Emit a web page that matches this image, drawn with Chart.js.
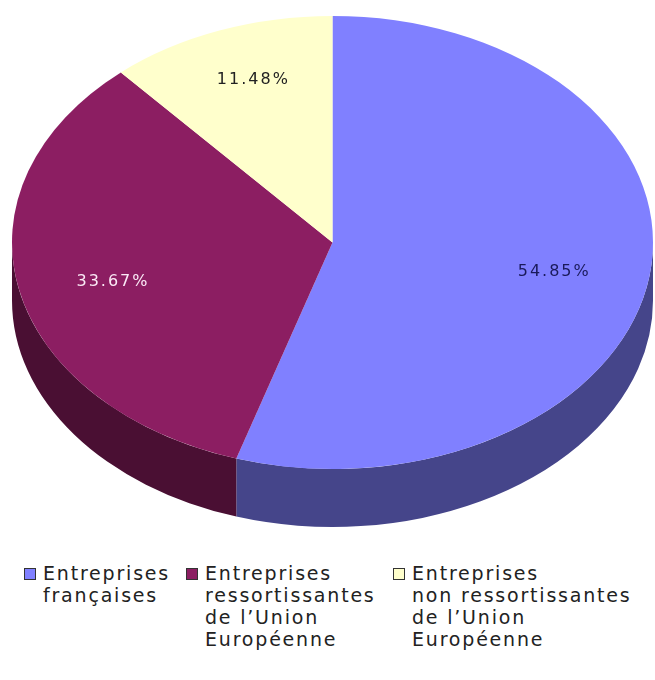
<!DOCTYPE html>
<html lang="fr">
<head>
    <meta charset="UTF-8">
    <title>Répartition des entreprises</title>
    <script src="https://cdn.jsdelivr.net/npm/chart.js"></script>
    <style>
        body { margin:0; background:#fff; }
        #wrap { position:relative; width:655px; height:680px; }
        #legend { position:absolute; left:24px; top:562px; display:flex;
                  font-family:"DejaVu Sans", sans-serif; font-size:19px; letter-spacing:1.8px;
                  line-height:22px; color:#222; }
        .item { display:flex; align-items:flex-start; }
        .box { width:10px; height:10px; border:1px solid #333; margin:6px 7px 0 0; flex:none; }
    </style>
</head>
<body>
<div id="wrap">
    <canvas id="myChart" width="655" height="545"></canvas>
    <div id="legend"></div>
</div>

<script>
    // categories (one entry per line of the legend text)
    const categories = [
        ['Entreprises', 'françaises'],
        ['Entreprises', 'ressortissantes', 'de l’Union', 'Européenne'],
        ['Entreprises', 'non ressortissantes', 'de l’Union', 'Européenne']
    ];
    // share of each category, in %
    const shares = [54.85, 33.67, 11.48];

    const topColors = ['#8080FF', '#8C1E62', '#FFFFCC'];
    const sideColors = ['#45458A', '#4A0F33', '#88886A'];
    const labelColors = ['#1A1A5A', '#FBEAF6', '#222222'];
    const legendWidths = [162, 207, 245];

    const DEPTH = 58;

    // ellipse that the flat pie gets squashed into
    function ellipseOf(chart) {
        const a = chart.chartArea;
        const rx = (a.right - a.left) / 2;
        const ry = (a.bottom - a.top - DEPTH) / 2;
        return { cx: a.left + rx, cy: a.top + ry, rx, ry };
    }

    const pie3d = {
        id: 'pie3d',
        beforeDatasetsDraw(chart) {
            const ctx = chart.ctx;
            const e = ellipseOf(chart);
            const arcs = chart.getDatasetMeta(0).data;

            // side walls, only the front half (0..PI) shows
            arcs.forEach((arc, i) => {
                const a0 = Math.max(arc.startAngle, 0);
                const a1 = Math.min(arc.endAngle, Math.PI);
                if (a1 <= a0) return;
                ctx.beginPath();
                ctx.ellipse(e.cx, e.cy, e.rx, e.ry, 0, a0, a1, false);
                ctx.ellipse(e.cx, e.cy + DEPTH, e.rx, e.ry, 0, a1, a0, true);
                ctx.closePath();
                ctx.fillStyle = sideColors[i];
                ctx.fill();
            });

            // squash the round pie into the top ellipse
            const arc0 = arcs[0];
            const R = arc0.outerRadius;
            ctx.save();
            ctx.translate(e.cx, e.cy);
            ctx.scale(e.rx / R, e.ry / R);
            ctx.translate(-arc0.x, -arc0.y);
        },
        afterDatasetsDraw(chart) {
            const ctx = chart.ctx;
            ctx.restore();

            const e = ellipseOf(chart);
            const arcs = chart.getDatasetMeta(0).data;
            ctx.save();
            ctx.font = '16px "DejaVu Sans", sans-serif';
            ctx.letterSpacing = '2px';
            ctx.textAlign = 'center';
            ctx.textBaseline = 'middle';
            arcs.forEach((arc, i) => {
                const mid = (arc.startAngle + arc.endAngle) / 2;
                const x = e.cx + 0.7 * e.rx * Math.cos(mid);
                const y = e.cy + 0.78 * e.ry * Math.sin(mid) + 3;
                ctx.fillStyle = labelColors[i];
                ctx.fillText(shares[i].toFixed(2) + '%', x, y);
            });
            ctx.restore();
        }
    };

    const ctx = document.querySelector('#myChart').getContext('2d');
    const myChart = new Chart(ctx, {
        type: 'pie',
        data: {
            labels: categories.map(l => l.join(' ')),
            datasets: [{
                data: shares,
                backgroundColor: topColors,
                borderWidth: 0,
                clip: false
            }]
        },
        options: {
            responsive: false,
            animation: false,
            layout: { padding: { left: 12, right: 2, top: 16, bottom: 18 } },
            plugins: {
                legend: { display: false },
                tooltip: { enabled: false }
            }
        },
        plugins: [pie3d]
    });

    // legend below the pie
    const legend = document.getElementById('legend');
    categories.forEach((lines, i) => {
        const item = document.createElement('div');
        item.className = 'item';
        item.style.width = legendWidths[i] + 'px';
        const box = document.createElement('span');
        box.className = 'box';
        box.style.background = topColors[i];
        const txt = document.createElement('div');
        txt.innerHTML = lines.join('<br>');
        item.appendChild(box);
        item.appendChild(txt);
        legend.appendChild(item);
    });
</script>
</body>
</html>
